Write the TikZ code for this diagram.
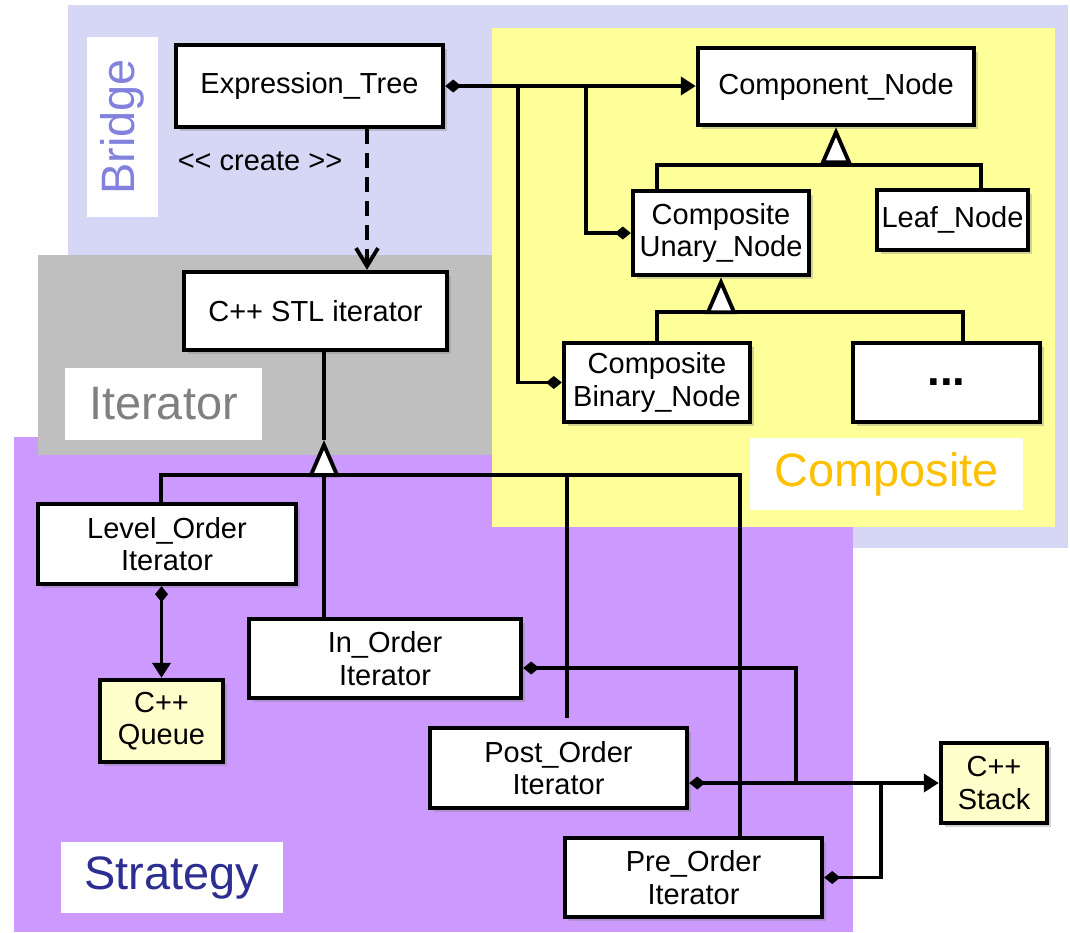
\documentclass[tikz,border=0pt]{standalone}
\usepackage{xcolor}
\usepackage{fontspec}
\setmainfont{Liberation Sans}
\usetikzlibrary{arrows.meta,positioning,calc,shadows}

\definecolor{bridgebg}{RGB}{214,214,245}
\definecolor{compbg}{RGB}{255,255,153}
\definecolor{iterbg}{RGB}{191,191,191}
\definecolor{stratbg}{RGB}{204,153,255}
\definecolor{libfill}{RGB}{255,255,204}
\definecolor{bridgetxt}{RGB}{130,130,222}
\definecolor{itertxt}{RGB}{128,128,128}
\definecolor{comptxt}{RGB}{255,192,0}
\definecolor{strattxt}{RGB}{44,46,145}

\begin{document}
\begin{tikzpicture}[font=\fontsize{16.5}{18.5}\selectfont, line width=2.2pt]
    \tikzset{
      cls/.style={draw, fill=white, line width=2.5pt, align=center, inner sep=0pt,
        drop shadow={shadow xshift=2.5pt, shadow yshift=-2.5pt, opacity=0.35}},
      lib/.style={cls, fill=libfill},
      tag/.style={fill=white, inner sep=0pt, font=\fontsize{26.7}{30}\selectfont},
      isa/.style={-{Triangle[fill=white, length=0.74cm, width=0.62cm]}},
      has/.style={{Diamond[length=0.32cm, width=0.26cm]}-},
      owned/.style={-{Diamond[length=0.32cm, width=0.26cm]}},
      hasto/.style={{Diamond[length=0.32cm, width=0.26cm]}-{Triangle[length=0.30cm, width=0.36cm]}},
      create/.style={-{Straight Barb[length=0.36cm, width=0.44cm]}, dash pattern=on 0.3cm off 0.18cm},
    }
    \useasboundingbox (0,0) rectangle (21.4,-18.64);

    \fill[bridgebg] (1.36,-0.10) rectangle (21.36,-10.96);
    \fill[stratbg] (0.28,-8.74) rectangle (17.06,-18.64);
    \fill[iterbg] (0.76,-5.10) rectangle (9.84,-9.10);
    \fill[compbg] (9.84,-0.56) rectangle (21.10,-10.54);

    \node[tag, rotate=90, minimum width=3.60cm, minimum height=1.42cm, text=bridgetxt] (bridgetag) at (2.45,-2.54) {Bridge};
    \node[tag, minimum width=3.94cm, minimum height=1.44cm, text=itertxt] (itertag) at (3.27,-8.08) {Iterator};
    \node[tag, minimum width=5.46cm, minimum height=1.44cm, text=comptxt] (comptag) at (17.73,-9.48) {Composite};
    \node[tag, minimum width=4.44cm, minimum height=1.42cm, text=strattxt] (strattag) at (3.44,-17.55) {Strategy};

    \node[cls, minimum width=5.34cm, minimum height=1.64cm] (tree) at (6.19,-1.72) {Expression\_Tree};
    \node[cls, minimum width=5.52cm, minimum height=1.54cm] (component) at (16.72,-1.73) {Component\_Node};
    \node[cls, minimum width=3.52cm, minimum height=1.68cm] (unary) at (14.42,-4.66) {Composite\\Unary\_Node};
    \node[cls, minimum width=3.02cm, minimum height=1.20cm] (leaf) at (19.05,-4.40) {Leaf\_Node};
    \node[cls, minimum width=3.72cm, minimum height=1.58cm] (binary) at (13.14,-7.65) {Composite\\Binary\_Node};
    \node[cls, minimum width=3.74cm, minimum height=1.58cm, font=\fontsize{26}{28}\selectfont\bfseries] (more) at (18.93,-7.65) {...};
    \node[cls, minimum width=5.26cm, minimum height=1.56cm] (stl) at (6.31,-6.22) {C++ STL iterator};
    \node[cls, minimum width=5.16cm, minimum height=1.60cm] (level) at (3.34,-10.88) {Level\_Order\\Iterator};
    \node[cls, minimum width=5.44cm, minimum height=1.58cm] (inorder) at (7.70,-13.17) {In\_Order\\Iterator};
    \node[cls, minimum width=5.14cm, minimum height=1.60cm] (postorder) at (11.17,-15.36) {Post\_Order\\Iterator};
    \node[cls, minimum width=5.14cm, minimum height=1.58cm] (preorder) at (13.87,-17.55) {Pre\_Order\\Iterator};
    \node[lib, minimum width=2.46cm, minimum height=1.64cm] (queue) at (3.23,-14.42) {C++\\Queue};
    \node[lib, minimum width=2.12cm, minimum height=1.60cm] (stack) at (19.88,-15.66) {C++\\Stack};

    \coordinate (jb) at (10.36,-1.72);
    \coordinate (ju) at (11.72,-1.72);
    \draw[hasto] (tree.east) -- (tree.east -| component.west);
    \draw[owned] (jb) |- (binary.west);
    \draw[owned] (ju) |- (unary.west);

    \coordinate (cx) at (7.34,0);
    \draw[create] (tree.south -| cx) -- (stl.north -| cx);
    \node (createlbl) at (5.20,-3.22) {<{}< create >{}>};

    \coordinate (hc) at (16.72,-3.30);
    \coordinate (ux) at (13.14,0);
    \coordinate (lx) at (19.62,0);
    \draw (unary.north -| ux) |- (lx |- hc) -- (leaf.north -| lx);
    \draw[isa] (hc) -- (component.south);

    \coordinate (hu) at (14.42,-6.24);
    \coordinate (mx) at (19.26,0);
    \draw (binary.north) |- (mx |- hu) -- (more.north -| mx);
    \draw[isa] (hu) -- (unary.south);

    \coordinate (hs) at (6.48,-9.50);
    \coordinate (st) at (6.48,-8.80);
    \coordinate (lvx) at (3.22,0);
    \coordinate (pox) at (11.34,0);
    \coordinate (prx) at (14.80,0);
    \draw (stl.south -| st) -- (st);
    \draw (level.north -| lvx) |- (prx |- hs) -- (preorder.north -| prx);
    \draw (hs) -- (inorder.north -| hs);
    \draw[shorten >=0.16cm] (pox |- hs) -- (postorder.north -| pox);
    \draw[isa] (hs) -- (st);

    \draw[hasto] (level.south -| queue.north) -- (queue.north);

    \coordinate (ix) at (15.92,0);
    \coordinate (px) at (17.62,0);
    \draw[has] ($(inorder.east)+(0,-0.19)$) -| (ix |- stack.west);
    \draw[hasto] (postorder.east |- stack.west) -- (stack.west);
    \draw[has] (preorder.east) -| (px |- stack.west);
  \end{tikzpicture}
\end{document}
